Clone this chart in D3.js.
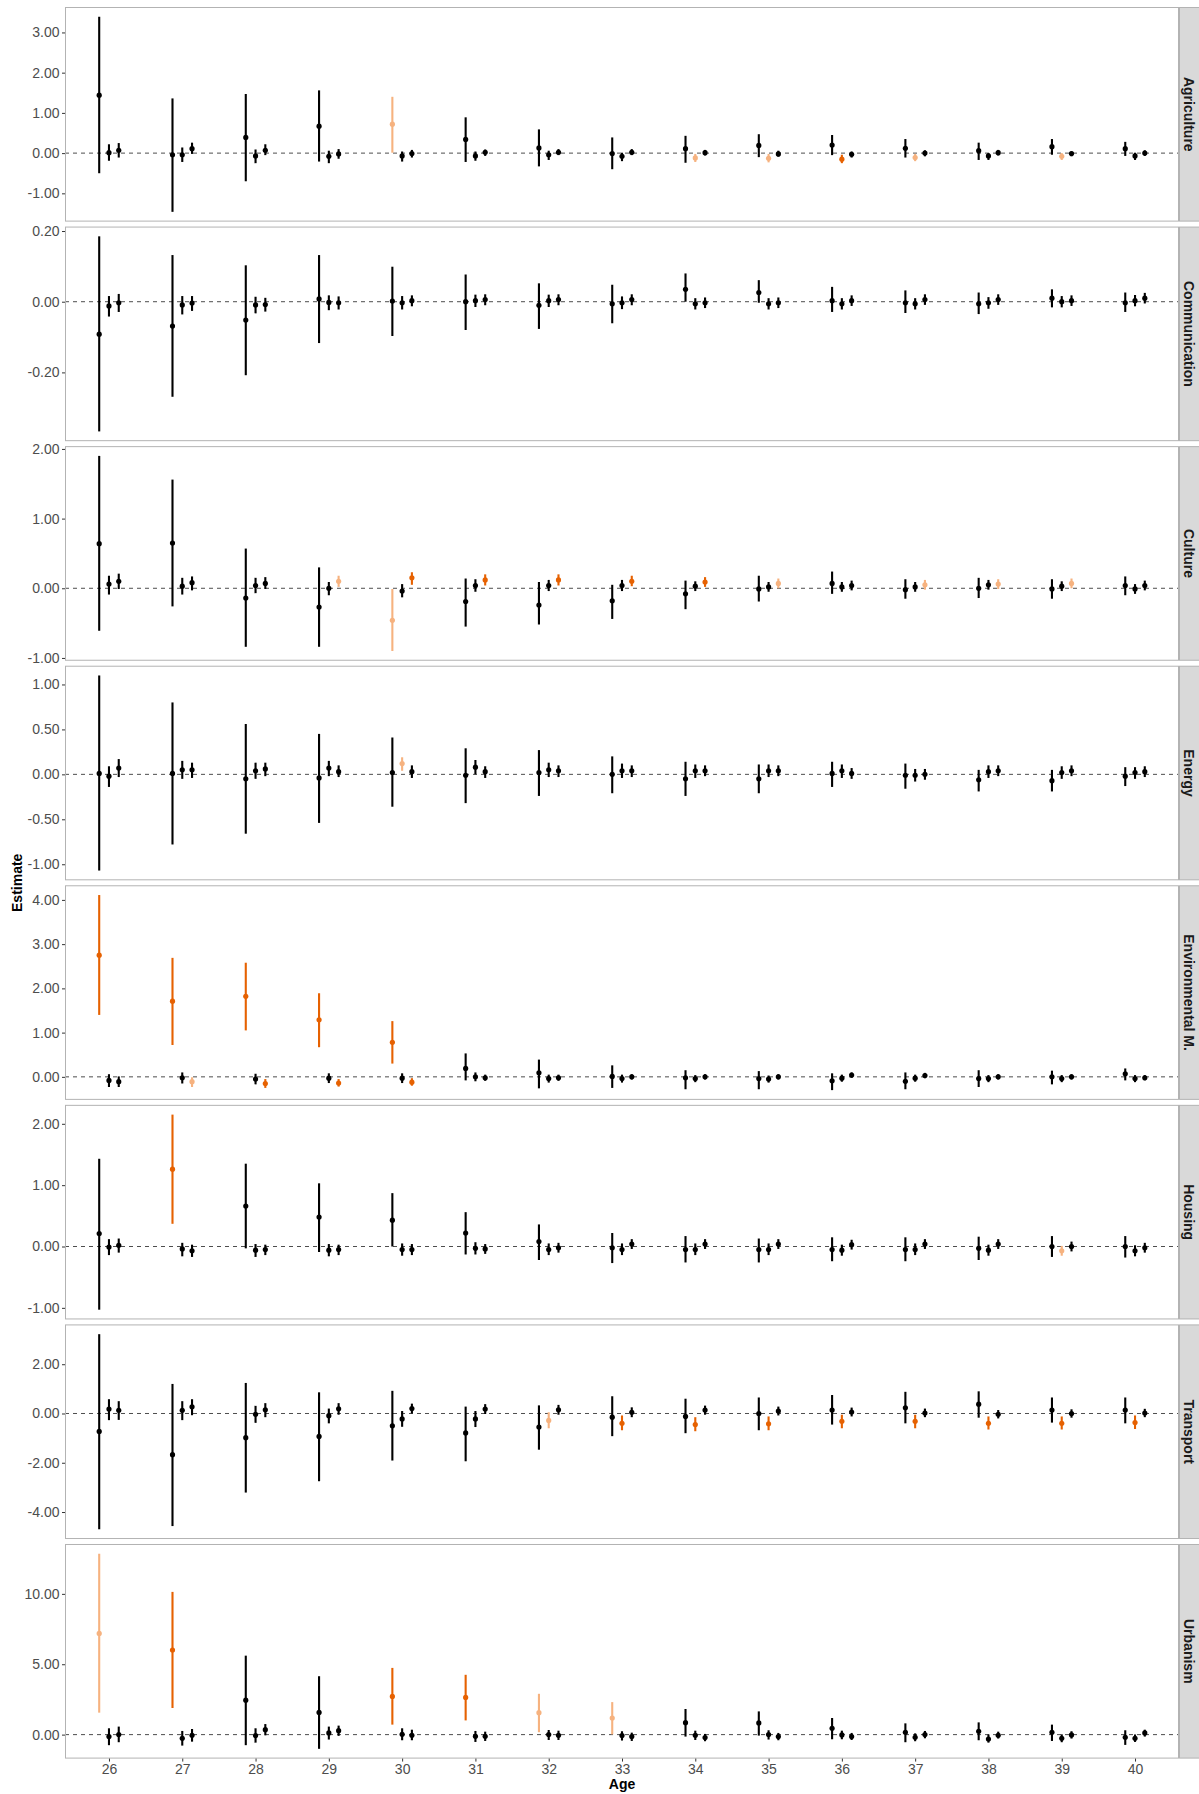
<!DOCTYPE html>
<html>
<head>
<meta charset="utf-8">
<script src="https://cdn.jsdelivr.net/npm/d3@7"></script>
<style>
  body { margin: 0; background: #ffffff; }
  svg { display: block; font-family: "Liberation Sans", Arial, sans-serif; }
</style>
</head>
<body>
<svg id="chart" width="1199" height="1794"></svg>
<script>
// Age groups on the shared x axis
const ages = [26, 27, 28, 29, 30, 31, 32, 33, 34, 35, 36, 37, 38, 39, 40];

// Facet rows, top to bottom
const sectors = ["Agriculture", "Communication", "Culture", "Energy",
                 "Environmental M.", "Housing", "Transport", "Urbanism"];

// Three dodged estimates per age: [estimate, lower, upper]
// Tone strings give one colour code per age: k = not significant, o = significant, p = weakly significant
const agricultureA = [[1.44,-0.50,3.39],[-0.04,-1.46,1.36],[0.39,-0.70,1.47],[0.67,-0.21,1.56],[0.72,0.01,1.40],[0.34,-0.22,0.89],[0.13,-0.33,0.59],[-0.01,-0.40,0.39],[0.11,-0.24,0.43],[0.19,-0.10,0.47],[0.20,-0.05,0.45],[0.12,-0.11,0.35],[0.06,-0.17,0.26],[0.16,-0.04,0.35],[0.11,-0.07,0.28]];
const agricultureB = [[0.01,-0.19,0.22],[-0.04,-0.22,0.14],[-0.07,-0.25,0.09],[-0.08,-0.25,0.06],[-0.07,-0.21,0.04],[-0.07,-0.19,0.04],[-0.04,-0.17,0.06],[-0.08,-0.20,0.01],[-0.12,-0.22,-0.02],[-0.13,-0.23,-0.02],[-0.15,-0.25,-0.04],[-0.11,-0.20,-0.02],[-0.07,-0.17,0.00],[-0.08,-0.17,0.00],[-0.07,-0.17,0.01]];
const agricultureC = [[0.07,-0.11,0.25],[0.11,-0.02,0.26],[0.07,-0.05,0.22],[-0.02,-0.14,0.10],[-0.01,-0.11,0.08],[0.02,-0.07,0.09],[0.02,-0.05,0.10],[0.02,-0.05,0.10],[0.01,-0.06,0.08],[-0.02,-0.09,0.06],[-0.03,-0.11,0.04],[0.00,-0.08,0.07],[0.01,-0.06,0.08],[-0.01,-0.08,0.04],[0.00,-0.07,0.07]];
const agricultureTone = ["kkkkpkkkkkkkkkk", "kkkkkkkkppopkpk", "kkkkkkkkkkkkkkk"];
const agricultureTicks = [-1, 0, 1, 2, 3];

const communicationA = [[-0.092,-0.367,0.185],[-0.069,-0.269,0.132],[-0.052,-0.208,0.103],[0.008,-0.117,0.132],[0.002,-0.097,0.099],[0.000,-0.080,0.077],[-0.010,-0.077,0.052],[-0.006,-0.061,0.048],[0.035,0.000,0.080],[0.026,-0.003,0.061],[0.003,-0.029,0.042],[-0.003,-0.032,0.032],[-0.006,-0.035,0.026],[0.010,-0.016,0.035],[-0.003,-0.029,0.026]];
const communicationB = [[-0.012,-0.042,0.016],[-0.009,-0.036,0.016],[-0.009,-0.033,0.014],[-0.002,-0.024,0.018],[-0.003,-0.022,0.016],[0.003,-0.015,0.020],[0.003,-0.015,0.020],[-0.003,-0.021,0.015],[-0.006,-0.022,0.010],[-0.006,-0.022,0.010],[-0.006,-0.022,0.010],[-0.006,-0.022,0.010],[-0.003,-0.020,0.013],[0.000,-0.016,0.016],[0.003,-0.013,0.019]];
const communicationC = [[-0.003,-0.029,0.022],[-0.004,-0.026,0.016],[-0.008,-0.028,0.011],[-0.003,-0.022,0.015],[0.003,-0.013,0.018],[0.006,-0.010,0.021],[0.006,-0.010,0.021],[0.006,-0.010,0.021],[-0.003,-0.018,0.012],[-0.003,-0.018,0.012],[0.003,-0.012,0.018],[0.006,-0.009,0.021],[0.006,-0.009,0.021],[0.003,-0.012,0.018],[0.010,-0.005,0.025]];
const communicationTone = ["kkkkkkkkkkkkkkk", "kkkkkkkkkkkkkkk", "kkkkkkkkkkkkkkk"];
const communicationTicks = [-0.2, 0, 0.2];

const cultureA = [[0.64,-0.61,1.90],[0.65,-0.26,1.56],[-0.14,-0.84,0.57],[-0.27,-0.84,0.30],[-0.46,-0.90,-0.01],[-0.19,-0.55,0.14],[-0.24,-0.52,0.09],[-0.18,-0.44,0.05],[-0.08,-0.30,0.11],[-0.01,-0.19,0.18],[0.07,-0.08,0.24],[-0.02,-0.15,0.13],[0.00,-0.14,0.15],[-0.01,-0.15,0.13],[0.04,-0.10,0.17]];
const cultureB = [[0.06,-0.09,0.18],[0.03,-0.09,0.15],[0.04,-0.07,0.15],[0.00,-0.10,0.09],[-0.04,-0.13,0.06],[0.04,-0.05,0.13],[0.04,-0.04,0.12],[0.04,-0.04,0.12],[0.03,-0.04,0.10],[0.02,-0.05,0.09],[0.02,-0.05,0.09],[0.02,-0.05,0.09],[0.05,-0.02,0.12],[0.03,-0.04,0.10],[-0.01,-0.08,0.06]];
const cultureC = [[0.10,-0.01,0.21],[0.08,-0.03,0.17],[0.07,-0.01,0.16],[0.10,0.02,0.18],[0.15,0.05,0.23],[0.12,0.04,0.20],[0.12,0.04,0.20],[0.10,0.03,0.18],[0.09,0.02,0.16],[0.07,0.00,0.14],[0.04,-0.03,0.11],[0.05,-0.02,0.12],[0.06,-0.01,0.13],[0.07,0.00,0.14],[0.04,-0.03,0.11]];
const cultureTone = ["kkkkpkkkkkkkkkk", "kkkkkkkkkkkkkkk", "kkkpooooopkpppk"];
const cultureTicks = [-1, 0, 1, 2];

const energyA = [[0.01,-1.07,1.10],[0.01,-0.78,0.80],[-0.05,-0.66,0.56],[-0.04,-0.54,0.45],[0.02,-0.36,0.41],[-0.01,-0.32,0.29],[0.02,-0.24,0.27],[0.00,-0.21,0.20],[-0.05,-0.24,0.14],[-0.05,-0.21,0.11],[0.01,-0.14,0.14],[-0.01,-0.16,0.12],[-0.06,-0.19,0.05],[-0.07,-0.19,0.05],[-0.02,-0.13,0.08]];
const energyB = [[-0.02,-0.14,0.09],[0.05,-0.05,0.15],[0.04,-0.05,0.13],[0.07,-0.02,0.15],[0.12,0.04,0.19],[0.08,0.00,0.16],[0.05,-0.03,0.13],[0.04,-0.04,0.12],[0.04,-0.04,0.11],[0.04,-0.03,0.11],[0.04,-0.04,0.11],[-0.01,-0.08,0.06],[0.03,-0.04,0.10],[0.02,-0.05,0.09],[0.02,-0.05,0.08]];
const energyC = [[0.07,-0.03,0.17],[0.05,-0.04,0.13],[0.06,-0.02,0.13],[0.03,-0.03,0.10],[0.03,-0.04,0.10],[0.03,-0.04,0.09],[0.04,-0.03,0.10],[0.04,-0.03,0.10],[0.04,-0.02,0.10],[0.04,-0.02,0.10],[0.01,-0.05,0.07],[0.00,-0.06,0.06],[0.04,-0.02,0.10],[0.04,-0.02,0.10],[0.03,-0.03,0.09]];
const energyTone = ["kkkkkkkkkkkkkkk", "kkkkpkkkkkkkkkk", "kkkkkkkkkkkkkkk"];
const energyTicks = [-1, -0.5, 0, 0.5, 1];

const environmentA = [[2.75,1.40,4.11],[1.71,0.72,2.69],[1.82,1.05,2.58],[1.29,0.67,1.89],[0.78,0.30,1.26],[0.19,-0.08,0.53],[0.09,-0.26,0.39],[0.01,-0.25,0.26],[-0.02,-0.28,0.15],[-0.04,-0.28,0.13],[-0.09,-0.30,0.08],[-0.10,-0.28,0.10],[-0.04,-0.23,0.15],[0.00,-0.17,0.14],[0.07,-0.08,0.19]];
const environmentB = [[-0.08,-0.23,0.06],[-0.02,-0.15,0.10],[-0.05,-0.17,0.07],[-0.03,-0.14,0.08],[-0.03,-0.14,0.08],[0.00,-0.10,0.10],[-0.04,-0.13,0.05],[-0.04,-0.13,0.05],[-0.04,-0.12,0.04],[-0.05,-0.13,0.03],[-0.03,-0.11,0.05],[-0.03,-0.11,0.05],[-0.04,-0.12,0.04],[-0.04,-0.12,0.04],[-0.04,-0.12,0.04]];
const environmentC = [[-0.11,-0.23,0.01],[-0.11,-0.23,-0.01],[-0.15,-0.25,-0.05],[-0.14,-0.22,-0.05],[-0.12,-0.20,-0.03],[-0.02,-0.09,0.05],[-0.02,-0.09,0.05],[0.00,-0.06,0.06],[0.00,-0.06,0.06],[0.00,-0.06,0.06],[0.04,-0.02,0.10],[0.03,-0.03,0.09],[0.00,-0.06,0.06],[0.00,-0.06,0.06],[-0.02,-0.08,0.04]];
const environmentTone = ["oooookkkkkkkkkk", "kkkkkkkkkkkkkkk", "kpoookkkkkkkkkk"];
const environmentTicks = [0, 1, 2, 3, 4];

const housingA = [[0.21,-1.03,1.43],[1.26,0.37,2.15],[0.66,-0.03,1.35],[0.48,-0.09,1.03],[0.43,0.00,0.87],[0.22,-0.13,0.56],[0.08,-0.22,0.36],[-0.02,-0.27,0.22],[-0.05,-0.26,0.17],[-0.05,-0.26,0.13],[-0.05,-0.24,0.15],[-0.05,-0.24,0.15],[-0.03,-0.22,0.16],[0.00,-0.17,0.17],[0.00,-0.18,0.17]];
const housingB = [[-0.01,-0.14,0.12],[-0.04,-0.16,0.06],[-0.06,-0.17,0.04],[-0.06,-0.16,0.04],[-0.05,-0.15,0.05],[-0.03,-0.13,0.07],[-0.05,-0.14,0.05],[-0.05,-0.14,0.05],[-0.05,-0.14,0.05],[-0.05,-0.14,0.05],[-0.06,-0.15,0.03],[-0.05,-0.14,0.05],[-0.06,-0.15,0.03],[-0.07,-0.15,0.01],[-0.07,-0.16,0.02]];
const housingC = [[0.02,-0.10,0.13],[-0.07,-0.17,0.03],[-0.05,-0.14,0.03],[-0.05,-0.14,0.03],[-0.05,-0.14,0.04],[-0.04,-0.12,0.04],[-0.02,-0.10,0.06],[0.04,-0.04,0.12],[0.04,-0.04,0.12],[0.04,-0.04,0.12],[0.03,-0.05,0.11],[0.04,-0.04,0.12],[0.04,-0.04,0.12],[0.00,-0.08,0.08],[-0.02,-0.10,0.06]];
const housingTone = ["kokkkkkkkkkkkkk", "kkkkkkkkkkkkkpk", "kkkkkkkkkkkkkkk"];
const housingTicks = [-1, 0, 1, 2];

const transportA = [[-0.73,-4.70,3.22],[-1.67,-4.57,1.20],[-0.98,-3.21,1.24],[-0.93,-2.75,0.86],[-0.50,-1.91,0.92],[-0.79,-1.94,0.28],[-0.55,-1.47,0.33],[-0.15,-0.92,0.70],[-0.12,-0.80,0.60],[0.00,-0.68,0.65],[0.14,-0.45,0.75],[0.23,-0.40,0.88],[0.38,-0.17,0.90],[0.14,-0.37,0.65],[0.14,-0.40,0.65]];
const transportB = [[0.18,-0.27,0.58],[0.13,-0.27,0.50],[-0.03,-0.38,0.31],[-0.09,-0.40,0.20],[-0.22,-0.54,0.10],[-0.22,-0.55,0.10],[-0.28,-0.60,0.05],[-0.40,-0.68,-0.08],[-0.45,-0.72,-0.15],[-0.42,-0.68,-0.12],[-0.32,-0.60,-0.05],[-0.32,-0.60,-0.05],[-0.40,-0.65,-0.12],[-0.40,-0.65,-0.12],[-0.37,-0.63,-0.08]];
const transportC = [[0.13,-0.26,0.50],[0.27,-0.07,0.58],[0.15,-0.15,0.42],[0.19,-0.05,0.42],[0.20,0.00,0.40],[0.18,-0.02,0.38],[0.15,-0.05,0.35],[0.05,-0.15,0.25],[0.14,-0.05,0.32],[0.10,-0.08,0.28],[0.06,-0.12,0.24],[0.02,-0.15,0.20],[-0.03,-0.20,0.14],[0.00,-0.17,0.17],[0.02,-0.15,0.19]];
const transportTone = ["kkkkkkkkkkkkkkk", "kkkkkkpoooooooo", "kkkkkkkkkkkkkkk"];
const transportTicks = [-4, -2, 0, 2];

const urbanismA = [[7.19,1.56,12.85],[6.01,1.89,10.14],[2.45,-0.75,5.61],[1.58,-1.01,4.15],[2.71,0.71,4.74],[2.64,1.01,4.25],[1.56,0.17,2.90],[1.18,0.02,2.31],[0.85,-0.14,1.82],[0.83,-0.07,1.65],[0.45,-0.33,1.18],[0.17,-0.54,0.80],[0.24,-0.40,0.87],[0.17,-0.45,0.71],[-0.19,-0.73,0.31]];
const urbanismB = [[-0.14,-0.75,0.45],[-0.26,-0.78,0.26],[-0.07,-0.57,0.45],[0.12,-0.35,0.57],[0.02,-0.40,0.45],[-0.12,-0.52,0.26],[0.00,-0.38,0.33],[-0.07,-0.42,0.24],[-0.05,-0.38,0.28],[0.00,-0.35,0.31],[-0.02,-0.33,0.28],[-0.19,-0.47,0.09],[-0.31,-0.57,0.01],[-0.26,-0.54,0.02],[-0.26,-0.52,0.01]];
const urbanismC = [[0.00,-0.54,0.57],[-0.05,-0.50,0.40],[0.35,-0.05,0.75],[0.28,-0.09,0.64],[-0.05,-0.40,0.35],[-0.12,-0.45,0.21],[-0.05,-0.38,0.28],[-0.14,-0.45,0.14],[-0.21,-0.47,0.05],[-0.14,-0.40,0.12],[-0.14,-0.38,0.12],[0.00,-0.26,0.26],[-0.05,-0.28,0.21],[-0.02,-0.28,0.24],[0.12,-0.14,0.35]];
const urbanismTone = ["pokkooppkkkkkkk", "kkkkkkkkkkkkkkk", "kkkkkkkkkkkkkkk"];
const urbanismTicks = [0, 5, 10];

// Colours for the significance codes
const toneColour = { k: "#000000", o: "#E66101", p: "#F6B27F" };

const panels = [
  { name: sectors[0], series: [agricultureA, agricultureB, agricultureC], tone: agricultureTone, ticks: agricultureTicks },
  { name: sectors[1], series: [communicationA, communicationB, communicationC], tone: communicationTone, ticks: communicationTicks },
  { name: sectors[2], series: [cultureA, cultureB, cultureC], tone: cultureTone, ticks: cultureTicks },
  { name: sectors[3], series: [energyA, energyB, energyC], tone: energyTone, ticks: energyTicks },
  { name: sectors[4], series: [environmentA, environmentB, environmentC], tone: environmentTone, ticks: environmentTicks },
  { name: sectors[5], series: [housingA, housingB, housingC], tone: housingTone, ticks: housingTicks },
  { name: sectors[6], series: [transportA, transportB, transportC], tone: transportTone, ticks: transportTicks },
  { name: sectors[7], series: [urbanismA, urbanismB, urbanismC], tone: urbanismTone, ticks: urbanismTicks }
];

const svg = d3.select("#chart");
const plotLeft = 65, plotRight = 1179;
const firstTop = 7, rowPitch = 219.57, panelH = 214.6;
const stripW = 20;

const x = d3.scalePoint().domain(ages).range([plotLeft, plotRight]).padding(0.6);
const dodgeStep = x.step() * 0.4 / 3;
const offsets = [-dodgeStep, 0, dodgeStep];

const fmt = d => d.toFixed(2);

panels.forEach((p, i) => {
  const top = firstTop + i * rowPitch;
  const bottom = top + panelH;
  const rows = p.series.flat();
  const lo = d3.min(rows, r => r[1]);
  const hi = d3.max(rows, r => r[2]);
  const pad = (hi - lo) * 0.05;
  const y = d3.scaleLinear().domain([lo - pad, hi + pad]).range([bottom, top]);

  const g = svg.append("g");

  g.append("rect")
    .attr("x", plotLeft).attr("y", top)
    .attr("width", plotRight - plotLeft).attr("height", panelH)
    .attr("fill", "#ffffff");

  // zero reference
  g.append("line")
    .attr("x1", plotLeft).attr("x2", plotRight)
    .attr("y1", y(0)).attr("y2", y(0))
    .attr("stroke", "#4d4d4d").attr("stroke-width", 1)
    .attr("stroke-dasharray", "4,4");

  // point ranges
  p.series.forEach((s, si) => {
    const sg = g.append("g");
    const pts = s.map((r, k) => ({ age: ages[k], est: r[0], lo: r[1], hi: r[2], c: toneColour[p.tone[si][k]] }));
    sg.selectAll("line").data(pts).join("line")
      .attr("x1", d => x(d.age) + offsets[si]).attr("x2", d => x(d.age) + offsets[si])
      .attr("y1", d => y(d.lo)).attr("y2", d => y(d.hi))
      .attr("stroke", d => d.c).attr("stroke-width", 2.1);
    sg.selectAll("circle").data(pts).join("circle")
      .attr("cx", d => x(d.age) + offsets[si]).attr("cy", d => y(d.est))
      .attr("r", 2.6).attr("fill", d => d.c);
  });

  // panel border
  g.append("rect")
    .attr("x", plotLeft + 0.5).attr("y", top + 0.5)
    .attr("width", plotRight - plotLeft - 1).attr("height", panelH - 1)
    .attr("fill", "none").attr("stroke", "#b3b3b3").attr("stroke-width", 1);

  // y axis
  const ya = g.append("g").attr("transform", `translate(${plotLeft},0)`)
    .call(d3.axisLeft(y).tickValues(p.ticks).tickFormat(fmt).tickSize(3).tickPadding(2.5));
  ya.select(".domain").remove();
  ya.selectAll(".tick line").attr("stroke", "#333333");
  ya.selectAll(".tick text").attr("fill", "#4d4d4d").style("font-size", "14px")
    .style("font-family", "'Liberation Sans', Arial, sans-serif");

  // facet strip
  g.append("rect")
    .attr("x", plotRight + 0.5).attr("y", top + 0.5)
    .attr("width", stripW).attr("height", panelH - 1)
    .attr("fill", "#d9d9d9").attr("stroke", "#b3b3b3").attr("stroke-width", 1);
  g.append("text")
    .attr("transform", `translate(${plotRight + 10},${top + panelH / 2}) rotate(90)`)
    .attr("text-anchor", "middle").attr("dy", "0.36em")
    .attr("fill", "#1a1a1a").style("font-size", "14px").style("font-weight", "bold")
    .text(p.name);

  if (i === panels.length - 1) {
    const xa = g.append("g").attr("transform", `translate(0,${bottom})`)
      .call(d3.axisBottom(x).tickSize(3).tickPadding(2.5));
    xa.select(".domain").remove();
    xa.selectAll(".tick line").attr("stroke", "#333333");
    xa.selectAll(".tick text").attr("fill", "#4d4d4d").style("font-size", "14px")
      .style("font-family", "'Liberation Sans', Arial, sans-serif");
  }
});

// axis titles
svg.append("text")
  .attr("x", (plotLeft + plotRight) / 2).attr("y", 1789)
  .attr("text-anchor", "middle").attr("fill", "#000000")
  .style("font-size", "14px").style("font-weight", "bold")
  .text("Age");

svg.append("text")
  .attr("transform", `translate(21.5,${(firstTop + 7 * rowPitch + panelH + firstTop) / 2}) rotate(-90)`)
  .attr("text-anchor", "middle").attr("fill", "#000000")
  .style("font-size", "14px").style("font-weight", "bold")
  .text("Estimate");
</script>
</body>
</html>
